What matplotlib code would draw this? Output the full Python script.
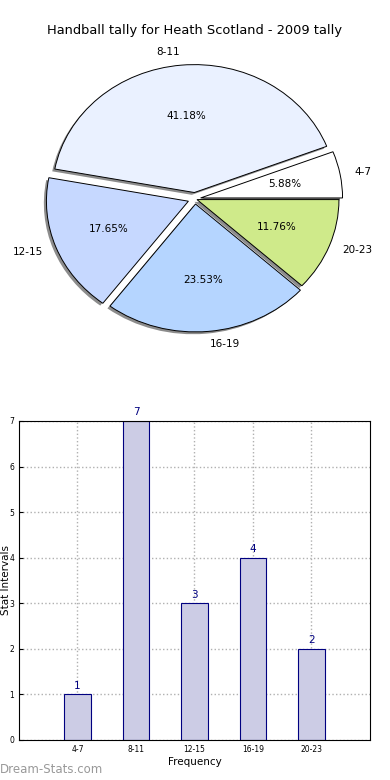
import matplotlib
matplotlib.use("Agg")
import matplotlib.pyplot as plt
import numpy as np

categories = ["4-7", "8-11", "12-15", "16-19", "20-23"]
counts = [1, 7, 3, 4, 2]
pie_colors = ["#FFFFFF", "#EAF1FF", "#C6D8FF", "#B5D5FF", "#CFEA8A"]
explode = [0.04, 0.05, 0.05, 0.04, 0.015]
title = "Handball tally for Heath Scotland - 2009 tally"

fig = plt.figure(figsize=(3.9, 7.8), dpi=100)

# Pie
axp = fig.add_axes([0.045, 0.54, 0.910, 0.410])
wedges, texts, autotexts = axp.pie(counts, labels=categories, colors=pie_colors,
                                   explode=explode, autopct="%.2f%%",
                                   shadow=dict(ox=-0.013, oy=-0.013, facecolor="#808080",
                                               edgecolor="none", alpha=0.9),
                                   startangle=0, labeldistance=1.1,
                                   wedgeprops=dict(edgecolor="black", linewidth=0.7),
                                   textprops=dict(fontsize=7.5))
axp.set_aspect("auto")
axp.set_xlim(-1.25, 1.25)
axp.set_ylim(-1.25, 1.25)
fig.text(0.5, 0.961, title, ha="center", va="center", fontsize=9.4)

# Bars
axb = fig.add_axes([0.0487, 0.0513, 0.9, 0.409])
x = np.arange(len(categories))
axb.bar(x, counts, width=0.45, color="#CCCCE5", edgecolor="#000080", linewidth=0.8, zorder=2)
for xi, c in zip(x, counts):
    axb.text(xi, c + 0.08, str(c), ha="center", va="bottom", color="#000080", fontsize=7.5)
axb.set_xlim(-1, 5)
axb.set_ylim(0, 7)
axb.set_xticks(x)
axb.set_xticklabels(categories, fontsize=5.5)
axb.set_yticks(range(0, 8))
axb.tick_params(axis="y", labelsize=5.5, length=3, direction="in")
axb.tick_params(axis="x", length=3, direction="in")
axb.grid(True, linestyle=":", color="#B0B0B0", linewidth=1.0, zorder=0)
axb.set_axisbelow(True)
axb.set_xlabel("Frequency", fontsize=7.5, labelpad=2)
axb.set_ylabel("Stat Intervals", fontsize=7.5)
axb.yaxis.set_label_coords(-0.024, 0.5)

fig.text(0.0, 0.013, "Dream-Stats.com", ha="left", va="center", fontsize=8.5, color="#999999")

fig.savefig("out.png", dpi=100)
